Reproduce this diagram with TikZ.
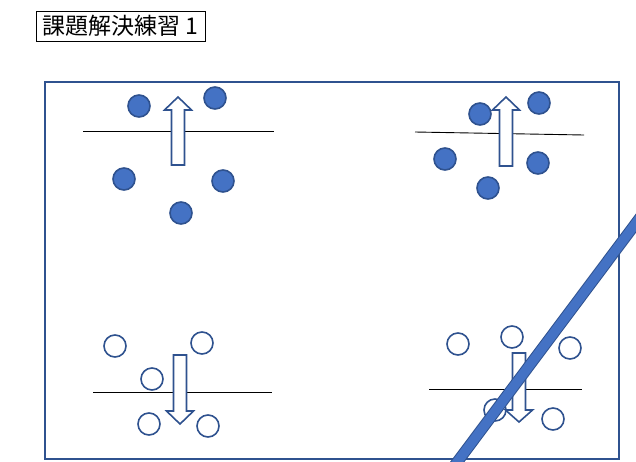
\documentclass[tikz,border=0pt]{standalone}
\usepackage{fontspec}
\newfontfamily\jpfont{Noto Sans CJK JP}
\usetikzlibrary{positioning}
\definecolor{Blue}{HTML}{4472C4}
\definecolor{DarkBlue}{HTML}{2F528F}
\tikzset{
  dot/.style={circle,minimum size=22pt,inner sep=0pt,line width=1.6pt,draw=DarkBlue,fill=Blue},
  ring/.style={dot,fill=white},
  level/.style={line width=0.9pt,black},
  blockarrow/.style={draw=DarkBlue,fill=white,line width=1.6pt,line join=miter}
}
% block arrow: x, tail y, tip y, head base y
\newcommand{\blockarrow}[4]{%
  \draw[blockarrow] (#1-6.5,#2) -- (#1+6.5,#2) -- (#1+6.5,#4) -- (#1+13.5,#4)
    -- (#1,#3) -- (#1-13.5,#4) -- (#1-6.5,#4) -- cycle;}

\begin{document}
\begin{tikzpicture}[x=1pt,y=-1pt]
  \useasboundingbox (0,0) rectangle (636,461);
  \node[draw,line width=0.9pt,minimum width=169pt,minimum height=30pt,inner sep=0pt,
    font=\jpfont\fontsize{23}{26}\selectfont] (title) at (120.5,26) {課題解決練習 1};
  \draw[DarkBlue,line width=2pt] (45,82) rectangle (619,459);

  % upper left
  \draw[level] (83,131) -- (274,131);
  \node[dot] (ul1) at (139,106) {};
  \node[dot] (ul2) at (215,98) {};
  \node[dot] (ul3) at (124,179) {};
  \node[dot] (ul4) at (223,181) {};
  \node[dot] (ul5) at (181,213) {};
  \blockarrow{178}{165}{97}{110}

  % upper right
  \draw[level] (415,132) -- (584,135);
  \node[dot] (ur1) at (480,114) {};
  \node[dot] (ur2) at (539,103) {};
  \node[dot] (ur3) at (445,159) {};
  \node[dot] (ur4) at (538,163) {};
  \node[dot] (ur5) at (488,188) {};
  \blockarrow{506}{166}{97}{110}

  % lower left
  \draw[level] (93,392) -- (272,392);
  \node[ring] (ll1) at (115,346) {};
  \node[ring] (ll2) at (202,343) {};
  \node[ring] (ll3) at (152,379) {};
  \node[ring] (ll4) at (149,424) {};
  \node[ring] (ll5) at (208,426) {};
  \blockarrow{180}{355}{424}{411}

  % lower right
  \draw[level] (429,389) -- (582,389);
  \node[ring] (lr1) at (458,344) {};
  \node[ring] (lr2) at (512,337) {};
  \node[ring] (lr3) at (570,348) {};
  \node[ring] (lr4) at (495,410) {};
  \node[ring] (lr5) at (553,419) {};
  \blockarrow{519}{353}{422}{410}

  % cross-out stroke
  \begin{scope}
    \clip (0,0) rectangle (636,461);
    \draw[DarkBlue,line width=11.5pt] (440,485) -- (654,199);
    \draw[Blue,line width=9.5pt] (440,485) -- (654,199);
  \end{scope}
\end{tikzpicture}
\end{document}
